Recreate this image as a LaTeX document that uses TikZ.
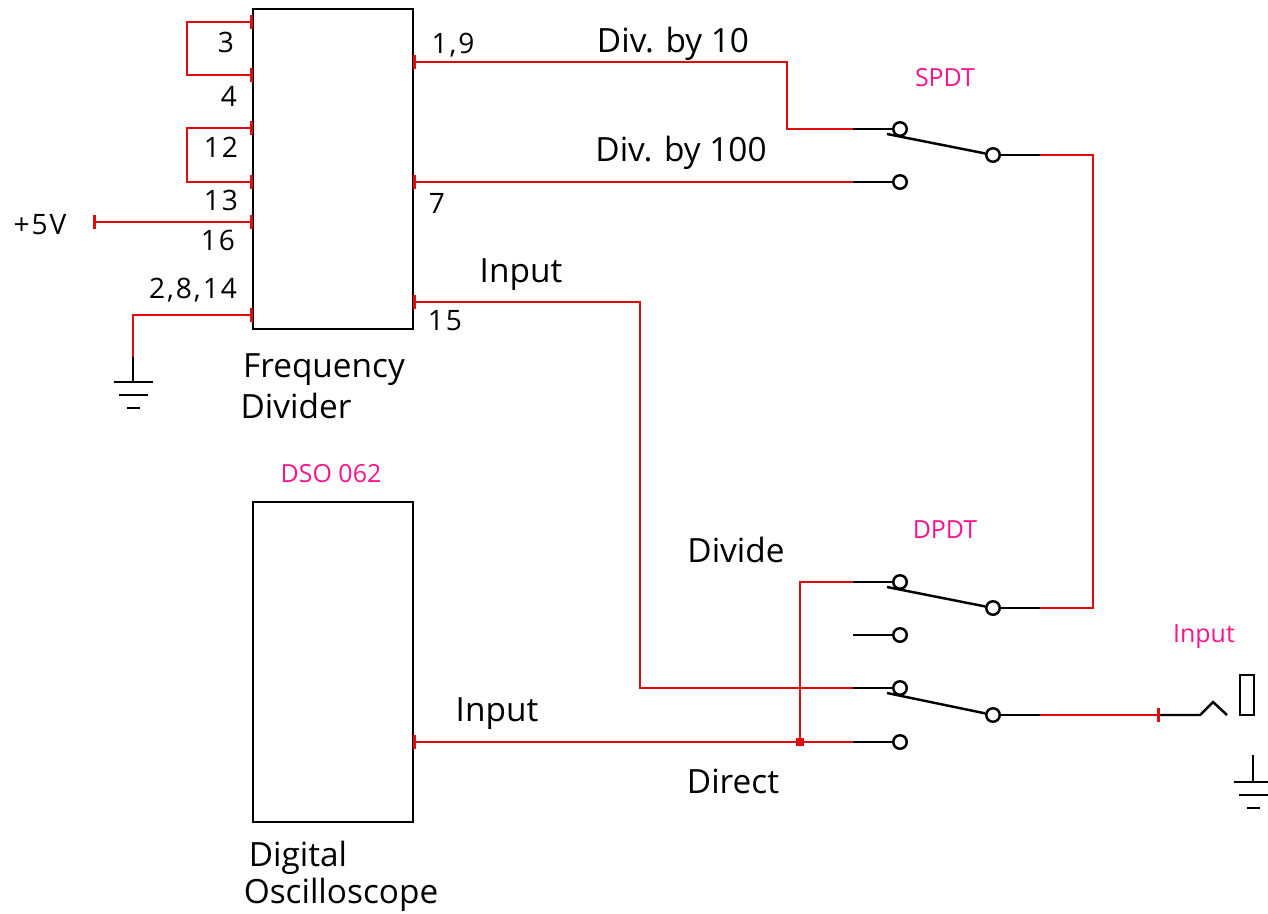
\documentclass[tikz,border=0pt]{standalone}
\usepackage{fontspec}
\setmainfont{Open Sans}
\newfontfamily\pinfont[LetterSpace=7]{Open Sans}
\usetikzlibrary{arrows.meta}
\tikzset{
  wire/.style={draw={rgb,255:red,226;green,10;blue,10},line width=1.35pt},
  pinned/.style={arrows={Bar[width=7.6pt,line width=1.6pt]-}},
  pinnedboth/.style={arrows={Bar[width=7.6pt,line width=1.6pt]-Bar[width=7.6pt,line width=1.6pt]}},
  lead/.style={draw=black,line width=1.4pt},
  chipbox/.style={draw=black,line width=1.6pt,minimum width=3.2cm,minimum height=6.4cm,inner sep=0pt},
  terminal/.style={circle,draw=black,fill=white,line width=1.4pt,minimum size=0.27cm,inner sep=0pt},
  pinlabel/.style={anchor=base,font=\pinfont\fontsize{16}{16}\selectfont},
  textlabel/.style={anchor=base,font=\fontsize{19}{19}\selectfont},
  partlabel/.style={anchor=base,text={rgb,255:red,250;green,20;blue,140},font=\fontsize{14.2}{14.2}\selectfont},
  joint/.style={rectangle,fill={rgb,255:red,226;green,10;blue,10},minimum size=0.15cm,inner sep=0pt}
}
\begin{document}
\begin{tikzpicture}[x=0.02cm,y=-0.02cm]
  \useasboundingbox (0,0) rectangle (1268,913);
  \draw
    (333,169) node[chipbox] (divider){}
    (333,662) node[chipbox] (scope){};
  % switch contacts
  \draw
    (900,129) node[terminal] (a1){}
    (993,155) node[terminal] (a2){}
    (900,182) node[terminal] (a3){}
    (900,582) node[terminal] (b1){}
    (993,608) node[terminal] (b2){}
    (900,635) node[terminal] (b3){}
    (900,688) node[terminal] (b4){}
    (993,715) node[terminal] (b5){}
    (900,742) node[terminal] (b6){};
  \draw
    (853,129) coordinate (sa1)
    (1040,155) coordinate (sa2)
    (853,182) coordinate (sa3)
    (853,582) coordinate (sb1)
    (1040,608) coordinate (sb2)
    (853,635) coordinate (sb3)
    (853,688) coordinate (sb4)
    (1040,715) coordinate (sb5)
    (853,742) coordinate (sb6)
    (887,134) coordinate (arma)
    (887,587) coordinate (armb)
    (887,693) coordinate (armc)
    (800,742) coordinate (tee);
  \begin{scope}[lead]
    \draw (sa1) to (a1);
    \draw (sa2) to (a2);
    \draw (sa3) to (a3);
    \draw (sb1) to (b1);
    \draw (sb2) to (b2);
    \draw (sb3) to (b3);
    \draw (sb4) to (b4);
    \draw (sb5) to (b5);
    \draw (sb6) to (b6);
    \draw (arma) to (a2);
    \draw (armb) to (b2);
    \draw (armc) to (b5);
  \end{scope}
  % pins on the divider and the scope
  \draw
    (253,22) coordinate (p3)
    (253,75) coordinate (p4)
    (253,128) coordinate (p12)
    (253,182) coordinate (p13)
    (253,222) coordinate (p16)
    (93,222) coordinate (vcc)
    (253,315) coordinate (pgnd)
    (413,62) coordinate (p1)
    (413,182) coordinate (p7)
    (413,302) coordinate (p15)
    (413,742) coordinate (pin)
    (1160,715) coordinate (jack)
    (133,357) coordinate (gnda)
    (1253,755) coordinate (gndb);
  \begin{scope}[wire]
    \draw[pinned] (p3) -- (187,22) -- (187,75) -- (p4);
    \draw[pinned] (p4) to ++(-10,0);
    \draw[pinned] (p12) -- (187,128) -- (187,182) -- (p13);
    \draw[pinned] (p13) to ++(-10,0);
    \draw[pinnedboth] (vcc) to (p16);
    \draw[pinned] (pgnd) -| (gnda);
    \draw[pinned] (p1) -- (787,62) -- (787,129) -- (sa1);
    \draw[pinned] (p7) to (sa3);
    \draw[pinned] (p15) -- (640,302) -- (640,688) -- (sb4);
    \draw (sa2) -- (1093,155) -- (1093,608) -- (sb2);
    \draw (sb1) -- (800,582) -- (tee);
    \draw[pinned] (pin) to (sb6);
    \draw[pinned] (jack) to (sb5);
  \end{scope}
  \draw (tee) node[joint] (teedot){};
  % jack and grounds
  \begin{scope}[lead]
    \draw (jack) -- (1200,715) -- (1213,702) -- (1227,715);
    \draw (1240,675) rectangle (1254,715);
    \draw (gnda) to (133,382);
    \draw (114,382) to (153,382);
    \draw (119,395) to (148,395);
    \draw (127,408) to (140,408);
    \draw (gndb) to (1253,782);
    \draw (1234,782) to (1268,782);
    \draw (1239,795) to (1268,795);
    \draw (1247,808) to (1260,808);
  \end{scope}
  % labels
  \draw
    (226,52) node[pinlabel] (l3){3}
    (229,106) node[pinlabel] (l4){4}
    (221,157) node[pinlabel] (l12){12}
    (221,210) node[pinlabel] (l13){13}
    (218,250) node[pinlabel] (l16){16}
    (193,298) node[pinlabel] (lgnd){2,8,14}
    (40,234) node[pinlabel] (lvcc){+5V}
    (453,53) node[pinlabel] (l1){1,9}
    (437,213) node[pinlabel] (l7){7}
    (445,330) node[pinlabel] (l15){15};
  \draw
    (673,52) node[textlabel] (tten){Div. by 10}
    (681,161) node[textlabel] (thun){Div. by 100}
    (521,282) node[textlabel] (tin){Input}
    (324,377) node[textlabel] (tfreq){Frequency}
    (296,418) node[textlabel] (tdiv){Divider}
    (298,866) node[textlabel] (tdig){Digital}
    (341,903) node[textlabel] (tosc){Oscilloscope}
    (736,562) node[textlabel] (tdivide){Divide}
    (733,793) node[textlabel] (tdirect){Direct}
    (497,721) node[textlabel] (tinput){Input};
  \draw
    (945,86) node[partlabel] (nspdt){SPDT}
    (945,538) node[partlabel] (ndpdt){DPDT}
    (331,482) node[partlabel] (ndso){DSO 062}
    (1204,642) node[partlabel] (njack){Input};
\end{tikzpicture}
\end{document}
